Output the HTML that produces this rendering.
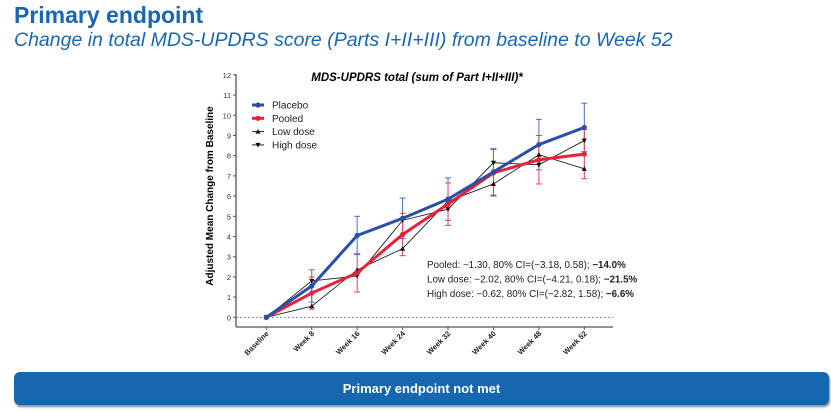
<!DOCTYPE html>
<html><head><meta charset="utf-8"><style>
body{margin:0;width:831px;height:412px;background:#fff;overflow:hidden;font-family:"Liberation Sans",sans-serif;position:relative}
#t1{position:absolute;left:14px;top:2px;font-size:23px;font-weight:bold;color:#1a66b3}
#t2{position:absolute;left:14px;top:29px;font-size:19.5px;font-style:italic;color:#1a66b3}
#btn{position:absolute;left:14px;top:372px;width:815px;height:33px;background:#1766b0;border-radius:6px;box-shadow:1px 2px 2px #888;color:#fff;font-weight:bold;font-size:13px;text-align:center;line-height:33px}
svg{position:absolute;left:0;top:0}
</style></head><body>
<div id="t1">Primary endpoint</div>
<div id="t2">Change in total MDS-UPDRS score (Parts I+II+III) from baseline to Week 52</div>
<svg id="chart" width="831" height="412"></svg>
<div id="btn">Primary endpoint not met</div>
<script>
const categories=["Baseline","Week 8","Week 16","Week 24","Week 32","Week 40","Week 48","Week 52"];
const yTicks=[0,1,2,3,4,5,6,7,8,9,10,11,12];
const placebo=[0,1.55,4.05,4.9,5.85,7.2,8.55,9.4];
const placeboErr=[0,0.8,0.95,1.0,1.05,1.15,1.25,1.2];
const pooled=[0,1.2,2.2,4.1,5.6,7.15,7.8,8.08];
const pooledErr=[0,0.8,0.95,1.05,1.05,1.15,1.2,1.22];
const lowDose=[0,0.55,2.35,3.4,5.75,6.6,8.05,7.35];
const highDose=[0,1.8,2.05,4.8,5.35,7.65,7.55,8.75];
const legendLabels=["Placebo","Pooled","Low dose","High dose"];
const statLines=[["Pooled: \u22121.30, 80% CI=(\u22123.18, 0.58); ","\u221214.0%"],["Low dose: \u22122.02, 80% CI=(\u22124.21, 0.18); ","\u221221.5%"],["High dose: \u22120.62, 80% CI=(\u22122.82, 1.58); ","\u22126.6%"]];
const svg=document.getElementById('chart');const NS="http://www.w3.org/2000/svg";
function mk(t,a,p){const e=document.createElementNS(NS,t);for(const k in a)e.setAttribute(k,a[k]);(p||svg).appendChild(e);return e;}
const x=i=>266.3+i*45.43;const y=v=>317.3-v*20.2;
let e;
e=mk('line',{x1:236,y1:74,x2:236,y2:327,stroke:'#555','stroke-width':1.3});


e=mk('line',{x1:236,y1:327,x2:613,y2:327,stroke:'#555','stroke-width':1.3});


e=mk('line',{x1:236,y1:y(0),x2:613,y2:y(0),stroke:'#777','stroke-width':0.8,'stroke-dasharray':'2,2'});


yTicks.forEach(v=>{mk('line',{x1:233,y1:y(v),x2:236,y2:y(v),stroke:'#555'});
e=mk('text',{x:231,y:y(v)+3,'font-size':7.5,'text-anchor':'end',fill:'#333'});e.textContent=v;

});
categories.forEach((c,i)=>{mk('line',{x1:x(i),y1:327,x2:x(i),y2:330,stroke:'#555'});
e=mk('text',{x:x(i)+3,y:334,'font-size':7.5,'font-weight':'bold','text-anchor':'end',transform:`rotate(-45 ${x(i)+3} 334)`,fill:'#222'});e.textContent=c;

});
e=mk('text',{x:213,y:196,'font-size':10,'font-weight':'bold','text-anchor':'middle',transform:'rotate(-90 213 196)'});e.textContent='Adjusted Mean Change from Baseline';


e=mk('text',{x:417,y:81,'font-size':11.5,'font-weight':'bold','font-style':'italic','text-anchor':'middle'});e.textContent='MDS-UPDRS total (sum of Part I+II+III)*';


function errs(vals,er,col,name){vals.forEach((v,i)=>{if(!er[i])return;const g=mk('g',{stroke:col,'stroke-width':1});


mk('line',{x1:x(i),y1:y(v-er[i]),x2:x(i),y2:y(v+er[i])},g);mk('line',{x1:x(i)-3,y1:y(v+er[i]),x2:x(i)+3,y2:y(v+er[i])},g);mk('line',{x1:x(i)-3,y1:y(v-er[i]),x2:x(i)+3,y2:y(v-er[i])},g);});}
errs(placebo,placeboErr,'#4a6fc0','placebo-error-bar');errs(pooled,pooledErr,'#e8404f','pooled-error-bar');
function tri(cx,cy,up,p){const s=2.6;return mk('polygon',{points:up?`${cx},${cy-s} ${cx-s},${cy+s*0.8} ${cx+s},${cy+s*0.8}`:`${cx},${cy+s} ${cx-s},${cy-s*0.8} ${cx+s},${cy-s*0.8}`,fill:'#111'},p);}
function series(vals,col,w,name,mark){const pts=vals.map((v,i)=>x(i)+','+y(v)).join(' ');
e=mk('polyline',{points:pts,fill:'none',stroke:col,'stroke-width':w});


vals.forEach((v,i)=>{let m;if(mark==='circle')m=mk('circle',{cx:x(i),cy:y(v),r:2.6,fill:col});else m=tri(x(i),y(v),mark==='up');

});}
series(lowDose,'#222',0.9,'low-dose','up');series(highDose,'#222',0.9,'high-dose','down');
series(pooled,'#e8203a',3,'pooled','circle');series(placebo,'#2a4fa8',3,'placebo','circle');
const lc=['#2a4fa8','#e8203a','#222','#222'];const lm=['circle','circle','up','down'];
legendLabels.forEach((l,i)=>{const yy=105+i*13.3;const g=mk('g',{});


mk('line',{x1:252,y1:yy,x2:264,y2:yy,stroke:lc[i],'stroke-width':i<2?3:1},g);
if(lm[i]==='circle')mk('circle',{cx:258,cy:yy,r:2.6,fill:lc[i]},g);else tri(258,yy,lm[i]==='up',g);
const t=mk('text',{x:272,y:yy+3.5,'font-size':10,fill:'#222'},g);t.textContent=l;});
statLines.forEach((s,i)=>{const t=mk('text',{x:427,y:268+i*14.5,'font-size':9.8,fill:'#222'});


const a=mk('tspan',{},t);a.textContent=s[0];const b=mk('tspan',{'font-weight':'bold'},t);b.textContent=s[1];});
</script>
</body></html>
